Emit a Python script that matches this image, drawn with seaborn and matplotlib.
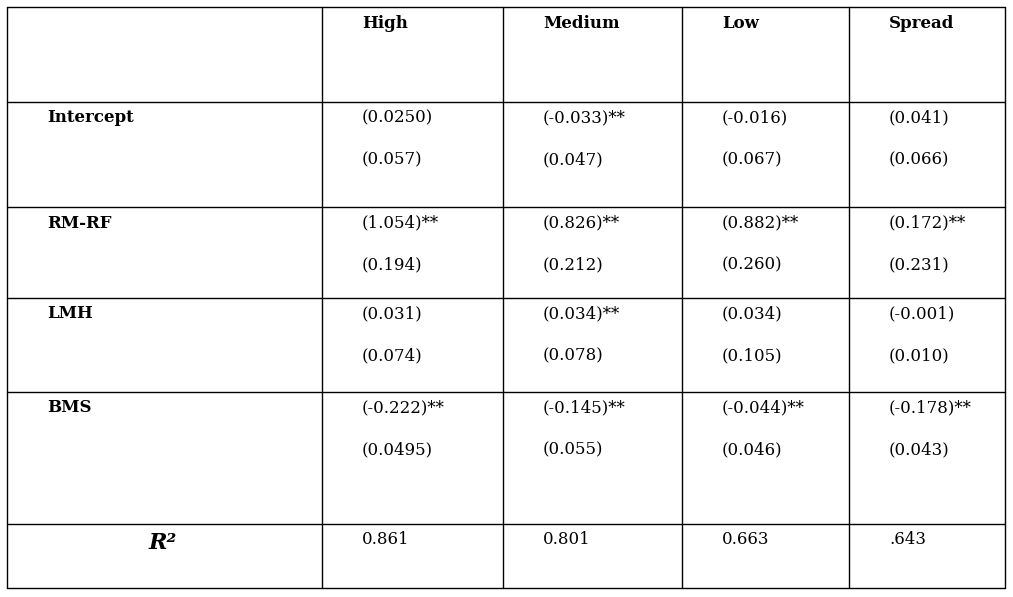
import matplotlib
matplotlib.use("Agg")
import matplotlib.pyplot as plt
import seaborn as sns

sns.set_style("white")
plt.rcParams['font.family'] = ['DejaVu Serif']

columns = ["High", "Medium", "Low", "Spread"]
rows = ["Intercept", "RM-RF", "LMH", "BMS"]
coef = [["(0.0250)", "(-0.033)**", "(-0.016)", "(0.041)"],
        ["(1.054)**", "(0.826)**", "(0.882)**", "(0.172)**"],
        ["(0.031)", "(0.034)**", "(0.034)", "(-0.001)"],
        ["(-0.222)**", "(-0.145)**", "(-0.044)**", "(-0.178)**"]]
se = [["(0.057)", "(0.047)", "(0.067)", "(0.066)"],
      ["(0.194)", "(0.212)", "(0.260)", "(0.231)"],
      ["(0.074)", "(0.078)", "(0.105)", "(0.010)"],
      ["(0.0495)", "(0.055)", "(0.046)", "(0.043)"]]
r2 = ["0.861", "0.801", "0.663", ".643"]

col_edges = [7, 322, 503, 682, 849, 1005]
row_edges = [7, 102, 207, 298, 392, 524, 588]

fig = plt.figure(figsize=(10.13, 5.97), dpi=100)
ax = fig.add_axes([0, 0, 1, 1])
ax.set_xlim(0, 1013)
ax.set_ylim(597, 0)
ax.axis("off")

for x in col_edges:
    ax.plot([x, x], [row_edges[0], row_edges[-1]], color="black", lw=1)
for y in row_edges:
    ax.plot([col_edges[0], col_edges[-1]], [y, y], color="black", lw=1)

fs = 12
kw = dict(fontsize=fs, va="center", color="black")
for j, c in enumerate(columns):
    ax.text(col_edges[j + 1] + 40, 23, c, fontweight="bold", **kw)
for i, r in enumerate(rows):
    y0 = row_edges[i + 1]
    ax.text(47, y0 + 16, r, fontweight="bold", **kw)
    for j in range(4):
        ax.text(col_edges[j + 1] + 40, y0 + 16, coef[i][j], **kw)
        ax.text(col_edges[j + 1] + 40, y0 + 58, se[i][j], **kw)
ax.text(163, 543, "R²", fontsize=16, fontweight="bold", fontstyle="italic",
        ha="center", va="center", color="black")
for j in range(4):
    ax.text(col_edges[j + 1] + 40, 540, r2[j], **kw)

fig.savefig("out.png", dpi=100)
